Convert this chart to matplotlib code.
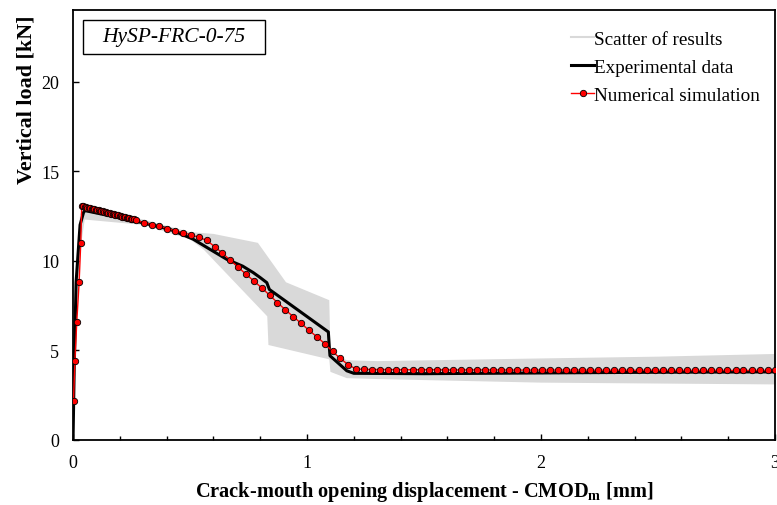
import matplotlib
matplotlib.use("Agg")
import matplotlib.pyplot as plt
from matplotlib.ticker import MultipleLocator
from matplotlib.patches import Rectangle

plt.rcParams['font.family'] = ['Liberation Serif', 'DejaVu Serif']
plt.rcParams['mathtext.fontset'] = 'custom'
plt.rcParams['mathtext.rm'] = 'Liberation Serif'
plt.rcParams['mathtext.bf'] = 'Liberation Serif:bold'

# scatter band (upper / lower envelope)
band_up_x = [0.0, 0.01, 0.03, 0.05, 0.3, 0.5, 0.6, 0.79, 0.91, 1.095, 1.10, 1.17, 1.3, 2.0, 2.5, 3.0]
band_up_y = [0.0, 8.0, 12.6, 13.0, 12.3, 11.6, 11.5, 11.0, 8.8, 7.8, 4.9, 4.45, 4.4, 4.55, 4.65, 4.8]
band_lo_x = [0.0, 0.01, 0.03, 0.05, 0.3, 0.5, 0.56, 0.83, 0.835, 1.095, 1.10, 1.17, 1.3, 2.0, 3.0]
band_lo_y = [0.0, 5.0, 10.5, 12.3, 12.0, 11.2, 10.6, 6.9, 5.3, 4.5, 3.8, 3.45, 3.4, 3.2, 3.1]

# experimental curve
exp_x = [0.0, 0.005, 0.013, 0.03, 0.045, 0.051, 0.272, 0.415, 0.514, 0.585, 0.657, 0.725, 0.77, 0.80,
         0.828, 0.839, 1.091, 1.095, 1.098, 1.17, 1.2, 1.5, 2.0, 2.5, 3.0]
exp_y = [0.0, 4.0, 8.8, 12.0, 12.7, 12.8, 12.2, 11.75, 11.2, 10.64, 10.08, 9.7, 9.34, 9.06,
         8.78, 8.4, 6.03, 5.2, 4.7, 3.86, 3.72, 3.7, 3.74, 3.78, 3.8]

# numerical simulation
num_x = [0.002, 0.008, 0.016, 0.026, 0.033,
         0.037, 0.043, 0.049, 0.055, 0.061, 0.067, 0.073, 0.079, 0.085, 0.091,
         0.097, 0.103, 0.109, 0.115, 0.121, 0.127, 0.133, 0.139, 0.145, 0.151,
         0.157, 0.163, 0.169, 0.175, 0.181, 0.187, 0.193, 0.199, 0.205, 0.211,
         0.217, 0.223, 0.229, 0.235, 0.241, 0.247, 0.253, 0.259,
         0.269, 0.302, 0.336, 0.369, 0.403, 0.437, 0.470, 0.504, 0.537, 0.571,
         0.605, 0.638, 0.672, 0.705, 0.739, 0.773, 0.806, 0.840, 0.873, 0.907,
         0.941, 0.974, 1.008, 1.041, 1.075, 1.109, 1.142, 1.176, 1.209,
         1.244, 1.278, 1.313, 1.347, 1.382, 1.416, 1.451, 1.485, 1.520, 1.554,
         1.589, 1.623, 1.658, 1.692, 1.727, 1.761, 1.796, 1.830, 1.865, 1.899,
         1.934, 1.968, 2.003, 2.037, 2.072, 2.106, 2.141, 2.175, 2.210, 2.244,
         2.279, 2.313, 2.348, 2.382, 2.417, 2.451, 2.486, 2.520, 2.555, 2.589,
         2.624, 2.658, 2.693, 2.727, 2.762, 2.796, 2.831, 2.865, 2.900, 2.934,
         2.969, 2.998]
num_y = [2.2, 4.4, 6.6, 8.8, 11.0,
         13.05, 13.03, 13.01, 12.99, 12.97, 12.95, 12.93, 12.91, 12.89, 12.87,
         12.85, 12.83, 12.81, 12.79, 12.77, 12.75, 12.73, 12.71, 12.69, 12.67,
         12.65, 12.63, 12.61, 12.59, 12.57, 12.55, 12.53, 12.51, 12.49, 12.47,
         12.45, 12.43, 12.41, 12.39, 12.37, 12.35, 12.33, 12.31,
         12.26, 12.13, 12.02, 11.92, 11.80, 11.68, 11.57, 11.44, 11.31, 11.14,
         10.79, 10.43, 10.03, 9.65, 9.25, 8.87, 8.49, 8.08, 7.67, 7.27,
         6.88, 6.52, 6.12, 5.77, 5.38, 4.94, 4.55, 4.20, 3.96,
         3.94, 3.93, 3.93, 3.93, 3.92, 3.92, 3.92, 3.92, 3.92, 3.92,
         3.91, 3.91, 3.91, 3.91, 3.91, 3.91, 3.91, 3.91, 3.90, 3.90,
         3.90, 3.90, 3.90, 3.90, 3.90, 3.90, 3.90, 3.90, 3.89, 3.89,
         3.89, 3.89, 3.89, 3.89, 3.89, 3.89, 3.89, 3.89, 3.88, 3.88,
         3.88, 3.88, 3.88, 3.88, 3.88, 3.88, 3.88, 3.88, 3.88, 3.88,
         3.88, 3.88]

fig = plt.figure(figsize=(7.77, 5.06), dpi=100)
ax = fig.add_axes([0.094, 0.1285, 0.9035, 0.85])

ax.fill(band_up_x + band_lo_x[::-1], band_up_y + band_lo_y[::-1],
        color='#d9d9d9', lw=0, zorder=1)
ax.plot(exp_x, exp_y, color='black', lw=2.2, zorder=2)
ax.plot(num_x, num_y, color='red', lw=1.0, marker='o', ms=4.6,
        mfc='red', mec='black', mew=0.6, zorder=3)

# legend handles
h1, = ax.plot([], [], color='#d9d9d9', lw=1.5)
h2, = ax.plot([], [], color='black', lw=2.2)
h3, = ax.plot([], [], color='red', lw=1.0, marker='o', ms=4.6, mfc='red', mec='black', mew=0.6)
ax.legend([h1, h2, h3], ['Scatter of results', 'Experimental data', 'Numerical simulation'],
          loc='upper right', frameon=False, fontsize=13.8, handlelength=1.15,
          handletextpad=0.05, labelspacing=0.55, borderaxespad=0,
          bbox_to_anchor=(0.99, 0.97))

# sample label box
ax.add_patch(Rectangle((0.0142, 0.898), 0.259, 0.079, transform=ax.transAxes,
                       fc='white', ec='black', lw=1.0, zorder=4))
ax.text(0.144, 0.937, 'HySP-FRC-0-75', transform=ax.transAxes, fontsize=15.5,
        style='italic', ha='center', va='center', zorder=5)

ax.set_xlim(0, 3)
ax.set_ylim(0, 24)
ax.xaxis.set_major_locator(MultipleLocator(1))
ax.xaxis.set_minor_locator(MultipleLocator(0.2))
ax.set_yticks([0, 5, 10, 15, 20])
ax.tick_params(which='both', direction='in', labelsize=13, width=1.0)
ax.tick_params(which='major', length=4)
ax.tick_params(which='minor', length=3)
ax.tick_params(axis='x', pad=10)
ax.tick_params(axis='y', pad=10)
for s in ax.spines.values():
    s.set_linewidth(1.3)

ax.set_ylabel('Vertical load [kN]', fontsize=15.8, fontweight='bold')
ax.yaxis.set_label_coords(-0.0526, 0.793)
ax.set_xlabel(r'Crack-mouth opening displacement - CMOD$_\mathbf{m}$ [mm]',
              fontsize=14.7, fontweight='bold', labelpad=6)

fig.savefig('out.png', dpi=100)
